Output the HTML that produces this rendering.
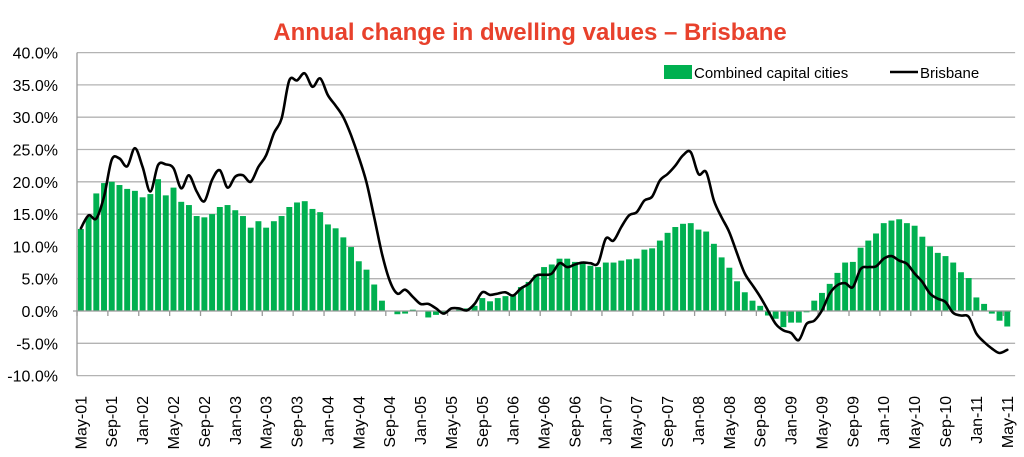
<!DOCTYPE html>
<html><head><meta charset="utf-8"><style>
body{margin:0;background:#fff;}
svg{display:block;font-family:"Liberation Sans",sans-serif;}
</style></head><body>
<svg id="chart" width="1024" height="457">
<text x="530" y="40" text-anchor="middle" font-size="24" font-weight="bold" fill="#e8412c">Annual change in dwelling values – Brisbane</text>
<g id="grid"></g>
<g id="bars"></g>
<g id="axes"></g>
<g id="lineg"></g>
<g>
<rect x="664" y="65" width="28" height="14" fill="#00b050"/>
<text x="694" y="78" font-size="15" fill="#000">Combined capital cities</text>
<line x1="890" y1="72" x2="918" y2="72" stroke="#000" stroke-width="2.5"/>
<text x="920" y="78" font-size="15" fill="#000">Brisbane</text>
</g>
</svg>
<script>
const monthNames=["Jan","Feb","Mar","Apr","May","Jun","Jul","Aug","Sep","Oct","Nov","Dec"];
const combined=[12.7,14.6,18.2,19.8,20,19.5,18.9,18.6,17.6,18.1,20.4,17.9,19.1,16.9,16.4,14.7,14.5,15.0,16.1,16.4,15.6,14.7,12.9,13.9,12.9,13.9,14.7,16.1,16.8,17.0,15.8,15.3,13.4,
12.8,11.4,9.9,7.7,6.4,4.1,1.6,0,-0.5,-0.4,0.2,0,-1,-0.6,-0.3,0,0.2,0.4,0.8,2.0,1.5,2.0,2.3,2.4,3.7,4.5,5.6,6.8,7.2,8.1,8.1,7.6,7.4,7.0,6.8,7.5,7.5,7.8,8.0,8.1,9.5,9.7,10.9,12.1,
13.0,13.5,13.6,12.6,12.3,10.4,8.3,6.7,4.6,2.9,1.6,0.8,-0.7,-1.2,-2.5,-1.8,-1.8,-0.2,1.6,2.8,4.2,5.9,7.5,7.6,9.8,10.9,12,13.6,14,14.2,13.6,13.2,11.5,10,9,8.5,7.5,6,5.1,2.1,1.1,-0.4,-1.5,-2.4];
const brisbane=[12.8,14.8,14.3,17.7,23.4,23.6,22.4,25.2,22.3,18.5,22.6,22.7,22.1,19,21,18.5,17,20.3,21.8,19.1,20.8,21,20,22.3,24.1,27.5,29.8,35.7,35.7,36.8,34.7,36,33.4,
31.8,30,27.2,23.8,19.9,14.5,8.9,4.7,2.7,3.3,2.2,1.1,1.1,0.4,-0.4,0.4,0.4,0.1,1.1,2.9,2.5,2.7,2.9,2.4,3.5,4.2,5.5,5.6,5.8,7.4,6.8,7.2,7.5,7.4,7.4,11.2,10.9,13,14.8,15.3,17.1,17.7,20.2,21.2,
22.5,24.1,24.6,21.2,21.5,17.1,14.5,12.2,8.9,5.8,4,2.2,0.1,-2,-3,-3.4,-4.5,-2,-1.5,0.1,2.7,4,4.3,3.7,6.5,6.8,6.9,8.1,8.5,7.8,7.3,5.8,4.5,2.7,1.9,1.4,-0.3,-0.7,-0.9,-3.5,-4.8,-5.8,-6.5,-6];
const yTicks=[40,35,30,25,20,15,10,5,0,-5,-10];
const NS="http://www.w3.org/2000/svg";
const x0=77,bw=7.72,n=combined.length;
const y=v=>311-v*6.46;
const xc=i=>x0+bw*(i+0.5);
function mk(t,a,p){const e=document.createElementNS(NS,t);for(const k in a)e.setAttribute(k,a[k]);p.appendChild(e);return e;}
const grid=document.getElementById('grid'),bars=document.getElementById('bars'),axes=document.getElementById('axes'),lg=document.getElementById('lineg');
const xEnd=x0+bw*n;
yTicks.forEach(v=>{
 if(v!==0){const l=mk('line',{x1:x0,x2:xEnd+4,y1:y(v),y2:y(v),stroke:'#b3b3b3','stroke-width':1.3},grid);
 
 }
 const t=mk('text',{x:58,y:y(v)+6,'text-anchor':'end','font-size':16,fill:'#000'},axes);
 t.textContent=v.toFixed(1)+'%';
 
 
});
combined.forEach((v,i)=>{
 const r=mk('rect',{x:x0+bw*i+0.9,width:bw-1.8,y:Math.min(y(v),y(0)),height:Math.abs(y(v)-y(0)),fill:'#00b050'},bars);
 
 
});
const ax=mk('line',{x1:x0,x2:x0,y1:y(40),y2:y(-10),stroke:'#999','stroke-width':1.3},axes);


const zx=mk('line',{x1:x0-4,x2:xEnd,y1:y(0),y2:y(0),stroke:'#999','stroke-width':1.3},axes);


for(let i=0;i<n;i+=4){
 const tk=mk('line',{x1:x0+bw*i,x2:x0+bw*i,y1:y(0),y2:y(0)+5,stroke:'#999','stroke-width':1.3},axes);
 
 
 const m=(4+i)%12,yr=1+Math.floor((4+i)/12);
 const t=mk('text',{transform:`translate(${xc(i)+5.5},396) rotate(-90)`,'text-anchor':'end','font-size':16,fill:'#000'},axes);
 t.textContent=monthNames[m]+'-'+String(yr).padStart(2,'0');
 
 
}
const pts=brisbane.map((v,i)=>[xc(i),y(v)]);
let d='M'+pts[0][0].toFixed(1)+','+pts[0][1].toFixed(1);
for(let i=0;i<pts.length-1;i++){
 const p0=pts[Math.max(0,i-1)],p1=pts[i],p2=pts[i+1],p3=pts[Math.min(pts.length-1,i+2)];
 const c1=[p1[0]+(p2[0]-p0[0])/6,p1[1]+(p2[1]-p0[1])/6];
 const c2=[p2[0]-(p3[0]-p1[0])/6,p2[1]-(p3[1]-p1[1])/6];
 d+='C'+c1[0].toFixed(1)+','+c1[1].toFixed(1)+' '+c2[0].toFixed(1)+','+c2[1].toFixed(1)+' '+p2[0].toFixed(1)+','+p2[1].toFixed(1);
}
const p=mk('path',{d:d,fill:'none',stroke:'#000','stroke-width':2.6,'stroke-linejoin':'round','stroke-linecap':'round'},lg);


</script>
</body></html>
